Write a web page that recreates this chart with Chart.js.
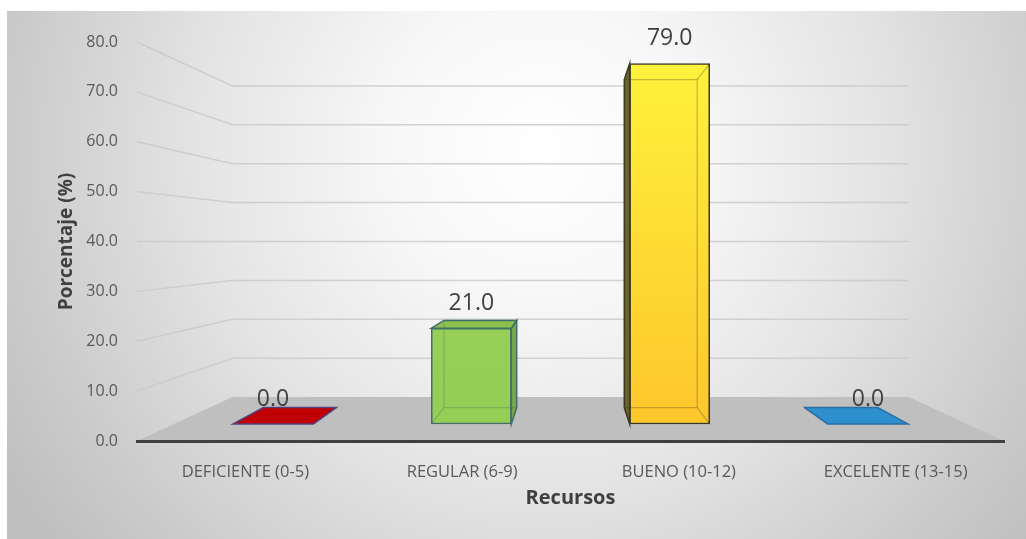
<!DOCTYPE html>
<html>
<head>
<meta charset="utf-8">
<title>Recursos</title>
<script src="https://cdn.jsdelivr.net/npm/chart.js"></script>
<style>
  html, body { margin: 0; padding: 0; background: #fff; }
  #wrap { width: 1026px; height: 539px; position: relative; }
</style>
</head>
<body>
<div id="wrap"><canvas id="recursosChart"></canvas></div>
<script>
var categories = ['DEFICIENTE (0-5)', 'REGULAR (6-9)', 'BUENO (10-12)', 'EXCELENTE (13-15)'];
var percentages = [0.0, 21.0, 79.0, 0.0];
var yMin = 0, yMax = 80, yStep = 10;
var yTitle = 'Porcentaje (%)';
var xTitle = 'Recursos';

// look of each bar: front gradient (top, bottom), top/side face, edge
var barStyles = [
    { front: ['#c00000', '#c00000'], top: '#c00000', side: '#8a0000', edge: '#55407f' },
    { front: ['#9dd35e', '#94ce55'], top: '#8cc04f', side: '#79a845', edge: '#41706a' },
    { front: ['#fff43d', '#fdc42a'], top: '#f2d635', side: '#6e6428', edge: '#3a3a26' },
    { front: ['#2e8fcf', '#2e8fcf'], top: '#2e8fcf', side: '#236fa2', edge: '#2d6fa5' }
];

// fake 3d: how far things sit "behind" the front plane, towards the plot centre
var WALL_DEPTH = 0.22;
var BAR_PLANE = 0.085;
var BAR_DEPTH = 0.09;

// ranges for the hidden axes of the bar plane, so the library places the bars
var k = BAR_PLANE / (2 * (1 - BAR_PLANE));
var n = categories.length;
var xbMin = -0.5 - n * k, xbMax = n - 0.5 + n * k;
var ybMin = yMin - (yMax - yMin) * k, ybMax = yMax + (yMax - yMin) * k;

function toward(p, c, d) {
    return { x: p.x + d * (c.x - p.x), y: p.y + d * (c.y - p.y) };
}
function poly(ctx, pts) {
    ctx.beginPath();
    ctx.moveTo(pts[0].x, pts[0].y);
    for (var i = 1; i < pts.length; i++) ctx.lineTo(pts[i].x, pts[i].y);
    ctx.closePath();
}

var scenePlugin = {
    id: 'scene3d',
    beforeDraw: function(chart) {
        var ctx = chart.ctx, ca = chart.chartArea;
        ctx.save();
        ctx.fillStyle = '#ffffff';
        ctx.fillRect(0, 0, chart.width, chart.height);
        var g = ctx.createRadialGradient(540, 150, 0, 540, 150, 620);
        g.addColorStop(0, '#ffffff');
        g.addColorStop(0.25, '#f7f7f7');
        g.addColorStop(0.55, '#e4e4e4');
        g.addColorStop(0.85, '#cbcbcb');
        g.addColorStop(1, '#c0c0c0');
        ctx.fillStyle = g;
        ctx.fillRect(7, 11, chart.width - 7, chart.height - 11);

        var c = { x: (ca.left + ca.right) / 2, y: (ca.top + ca.bottom) / 2 };
        var ys = chart.scales.y;
        // back wall grid lines
        ctx.strokeStyle = 'rgba(200,200,200,0.8)';
        ctx.lineWidth = 1.5;
        for (var v = yMin + yStep; v <= yMax; v += yStep) {
            var py = ys.getPixelForValue(v);
            var fl = { x: ca.left, y: py }, fr = { x: ca.right, y: py };
            var bl = toward(fl, c, WALL_DEPTH), br = toward(fr, c, WALL_DEPTH);
            ctx.beginPath();
            ctx.moveTo(fl.x, fl.y);
            ctx.lineTo(bl.x, bl.y);
            ctx.lineTo(br.x, bl.y);
            ctx.stroke();
        }
        // floor
        var p0 = ys.getPixelForValue(yMin);
        var f1 = { x: ca.left, y: p0 }, f2 = { x: ca.right, y: p0 };
        poly(ctx, [f1, toward(f1, c, WALL_DEPTH), toward(f2, c, WALL_DEPTH), f2]);
        ctx.fillStyle = '#bfbfbf';
        ctx.fill();
        ctx.restore();
    },
    afterDatasetsDraw: function(chart) {
        var ctx = chart.ctx, ca = chart.chartArea;
        var c = { x: (ca.left + ca.right) / 2, y: (ca.top + ca.bottom) / 2 };
        var meta = chart.getDatasetMeta(0);
        ctx.save();
        meta.data.forEach(function(el, i) {
            var st = barStyles[i];
            var p = el.getProps(['x', 'y', 'base', 'width'], true);
            var L = p.x - p.width / 2, R = p.x + p.width / 2;
            var T = Math.min(p.y, p.base), B = Math.max(p.y, p.base);
            var fTL = { x: L, y: T }, fTR = { x: R, y: T }, fBL = { x: L, y: B }, fBR = { x: R, y: B };
            var bTL = toward(fTL, c, BAR_DEPTH), bTR = toward(fTR, c, BAR_DEPTH);
            var bBL = toward(fBL, c, BAR_DEPTH), bBR = toward(fBR, c, BAR_DEPTH);
            ctx.lineWidth = 1.5;
            ctx.strokeStyle = st.edge;
            if (R < c.x) {
                poly(ctx, [fTR, bTR, bBR, fBR]);
                ctx.fillStyle = st.side; ctx.fill(); ctx.stroke();
            }
            if (L > c.x) {
                poly(ctx, [fTL, bTL, bBL, fBL]);
                ctx.fillStyle = st.side; ctx.fill(); ctx.stroke();
            }
            if (T > c.y) {
                poly(ctx, [fTL, fTR, bTR, bTL]);
                ctx.fillStyle = st.top; ctx.fill(); ctx.stroke();
            }
            if (B - T > 1) {
                // see-through back edges
                ctx.globalAlpha = 0.3;
                ctx.lineWidth = 1.2;
                poly(ctx, [bTL, bTR, bBR, bBL]);
                ctx.stroke();
                [[fTL, bTL], [fTR, bTR], [fBL, bBL], [fBR, bBR]].forEach(function(s) {
                    ctx.beginPath(); ctx.moveTo(s[0].x, s[0].y); ctx.lineTo(s[1].x, s[1].y); ctx.stroke();
                });
                ctx.globalAlpha = 1;
            }
            // value label
            ctx.fillStyle = '#404040';
            ctx.font = '23px "Open Sans"';
            ctx.textAlign = 'center';
            ctx.textBaseline = 'middle';
            ctx.fillText(percentages[i].toFixed(1), p.x, T - 25);
        });
        ctx.restore();
    }
};

var ctx = document.getElementById('recursosChart').getContext('2d');
var chart = new Chart(ctx, {
    type: 'bar',
    data: {
        labels: categories,
        datasets: [{
            label: yTitle,
            data: percentages.map(function(v, i) { return { x: i, y: v }; }),
            xAxisID: 'xb',
            yAxisID: 'yb',
            barThickness: 80,
            borderWidth: 1.5,
            borderSkipped: false,
            borderColor: function(c) { return barStyles[c.dataIndex].edge; },
            backgroundColor: function(c) {
                var st = barStyles[c.dataIndex];
                var ca = c.chart.chartArea;
                if (!ca) return st.front[1];
                var g = c.chart.ctx.createLinearGradient(0, ca.top, 0, ca.bottom);
                g.addColorStop(0, st.front[0]);
                g.addColorStop(1, st.front[1]);
                return g;
            }
        }]
    },
    options: {
        responsive: true,
        maintainAspectRatio: false,
        devicePixelRatio: 1,
        animation: false,
        events: [],
        layout: { padding: { left: 0, right: 22, top: 42, bottom: 0 } },
        plugins: {
            legend: { display: false },
            tooltip: { enabled: false }
        },
        scales: {
            x: {
                type: 'category',
                position: 'bottom',
                offset: true,
                grid: { display: false },
                border: { display: true, color: '#404040', width: 3 },
                ticks: {
                    color: '#595959',
                    font: { family: 'Open Sans', size: 16.5 },
                    padding: 13,
                    maxRotation: 0,
                    autoSkip: false
                },
                title: {
                    display: true,
                    text: xTitle,
                    color: '#404040',
                    font: { family: 'Open Sans', size: 20, weight: 'bold' },
                    padding: { top: 0, bottom: 29 }
                },
                afterFit: function(s) { s.height = 98; }
            },
            y: {
                type: 'linear',
                position: 'left',
                min: yMin,
                max: yMax,
                grid: { display: false },
                border: { display: false },
                ticks: {
                    stepSize: yStep,
                    color: '#595959',
                    font: { family: 'Open Sans', size: 16 },
                    padding: 11,
                    callback: function(v) { return Number(v).toFixed(1); }
                },
                title: {
                    display: true,
                    text: yTitle,
                    color: '#404040',
                    font: { family: 'Open Sans', size: 19, weight: 'bold' },
                    padding: { top: 55, bottom: 0 }
                },
                afterFit: function(s) { s.width = 137; }
            },
            xb: {
                type: 'linear',
                axis: 'x',
                display: false,
                offset: false,
                min: xbMin,
                max: xbMax
            },
            yb: {
                type: 'linear',
                axis: 'y',
                display: false,
                min: ybMin,
                max: ybMax
            }
        }
    },
    plugins: [scenePlugin]
});
</script>
</body>
</html>
